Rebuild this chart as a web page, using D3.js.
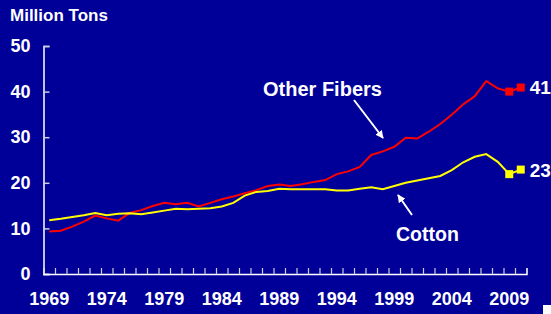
<!DOCTYPE html>
<html>
<head>
<meta charset="utf-8">
<script src="https://cdn.jsdelivr.net/npm/d3@7"></script>
<style>
  body { margin: 0; background: #000099; }
  svg { display: block; }
  text { font-family: "Liberation Sans", Arial, sans-serif; font-weight: bold; fill: #fff; }
</style>
</head>
<body>
<div id="chart"></div>
<script>
var width = 551;
var height = 314;

var years = d3.range(1969, 2011);
var otherFibers = [9.3, 9.5, 10.4, 11.5, 12.8, 12.2, 11.7, 13.4, 14.0, 14.9, 15.6, 15.3, 15.6, 14.8,
  15.6, 16.4, 17.0, 17.7, 18.4, 19.3, 19.6, 19.3, 19.7, 20.2, 20.6, 21.9, 22.5,
  23.5, 26.1, 26.9, 27.9, 29.9, 29.7, 31.2, 32.9, 34.9, 37.2, 39.0, 42.3, 40.7, 40.0, 40.9];
var cotton = [11.8, 12.1, 12.5, 12.9, 13.4, 12.9, 13.2, 13.3, 13.1, 13.5, 13.9, 14.3, 14.2, 14.3,
  14.4, 14.8, 15.6, 17.2, 18.0, 18.2, 18.7, 18.6, 18.6, 18.6, 18.6, 18.3, 18.3,
  18.7, 19.0, 18.6, 19.3, 20.0, 20.5, 21.0, 21.5, 22.8, 24.5, 25.7, 26.3, 24.6, 21.9, 22.9];
var yearLabels = [1969, 1974, 1979, 1984, 1989, 1994, 1999, 2004, 2009];
var yTicks = [0, 10, 20, 30, 40, 50];

var svg = d3.select("#chart").append("svg")
  .attr("width", width)
  .attr("height", height);

svg.append("rect").attr("width", width).attr("height", height).attr("fill", "#000099");

var x = d3.scaleBand().domain(years).range([43.5, 526.5]);
var xEdge = d3.scaleLinear().domain([1968.5, 2010.5]).range([43.5, 526.5]);
var y = d3.scaleLinear().domain([0, 50]).range([274, 46]);

var cx = function(yr) { return x(yr) + x.bandwidth() / 2; };

// y axis
var yAxis = svg.append("g")
  .attr("transform", "translate(43.5,0)")
  .call(d3.axisLeft(y).tickValues(yTicks).tickSize(-6).tickPadding(13).tickFormat(d3.format("d")));
yAxis.select(".domain").attr("stroke", "#fff").attr("stroke-width", 1.5);
yAxis.selectAll(".tick line").attr("stroke", "#ccd").attr("stroke-width", 1.5);
yAxis.selectAll(".tick text").style("font-size", "18px").attr("fill", "#fff");

// x axis ticks between years
var xTicks = svg.append("g")
  .attr("transform", "translate(0,274)")
  .call(d3.axisBottom(xEdge).tickValues(d3.range(1968.5, 2011, 1)).tickSize(-6).tickFormat(""));
xTicks.select(".domain").attr("stroke", "#fff").attr("stroke-width", 1.5);
xTicks.selectAll(".tick line").attr("stroke", "#ccd").attr("stroke-width", 1.2);

var xLab = svg.append("g")
  .attr("transform", "translate(0,274)")
  .call(d3.axisBottom(x).tickValues(yearLabels).tickSize(0).tickPadding(18));
xLab.select(".domain").remove();
xLab.selectAll(".tick text").style("font-size", "18px").attr("fill", "#fff");

svg.append("text").attr("x", 10).attr("y", 21).style("font-size", "17px").text("Million Tons");

var line = d3.line()
  .x(function(d, i) { return cx(years[i]); })
  .y(function(d) { return y(d); });

var series = [
  { name: "Other Fibers", values: otherFibers, color: "#ff0000" },
  { name: "Cotton", values: cotton, color: "#ffff00" }
];

series.forEach(function(s) {
  svg.append("path")
    .attr("d", line(s.values))
    .attr("fill", "none")
    .attr("stroke", s.color)
    .attr("stroke-width", 2);
  svg.selectAll(null)
    .data(s.values.slice(-2))
    .enter().append("rect")
    .attr("x", function(d, i) { return cx(years[years.length - 2 + i]) - 4; })
    .attr("y", function(d) { return y(d) - 4; })
    .attr("width", 8)
    .attr("height", 8)
    .attr("fill", s.color);
  svg.append("text")
    .attr("x", cx(2010) + 9)
    .attr("y", y(s.values[s.values.length - 1]) + 7)
    .style("font-size", "19px")
    .text(Math.round(s.values[s.values.length - 1]));
});

// annotations
svg.append("text").attr("x", 263).attr("y", 96).style("font-size", "20px").text("Other Fibers");
svg.append("text").attr("x", 396).attr("y", 241).style("font-size", "19.5px").text("Cotton");

var defs = svg.append("defs");
defs.append("marker")
  .attr("id", "arr")
  .attr("viewBox", "0 0 10 10")
  .attr("refX", 9).attr("refY", 5)
  .attr("markerWidth", 4).attr("markerHeight", 4)
  .attr("orient", "auto")
  .append("path").attr("d", "M0,0 L10,5 L0,10 z").attr("fill", "#fff");

svg.append("line")
  .attr("x1", 354).attr("y1", 100).attr("x2", 383).attr("y2", 138)
  .attr("stroke", "#fff").attr("stroke-width", 2).attr("marker-end", "url(#arr)");
svg.append("line")
  .attr("x1", 412).attr("y1", 215).attr("x2", 398).attr("y2", 195)
  .attr("stroke", "#fff").attr("stroke-width", 2).attr("marker-end", "url(#arr)");

svg.append("rect").attr("x", 543).attr("y", 305).attr("width", 8).attr("height", 9).attr("fill", "#fff");
</script>
</body>
</html>
